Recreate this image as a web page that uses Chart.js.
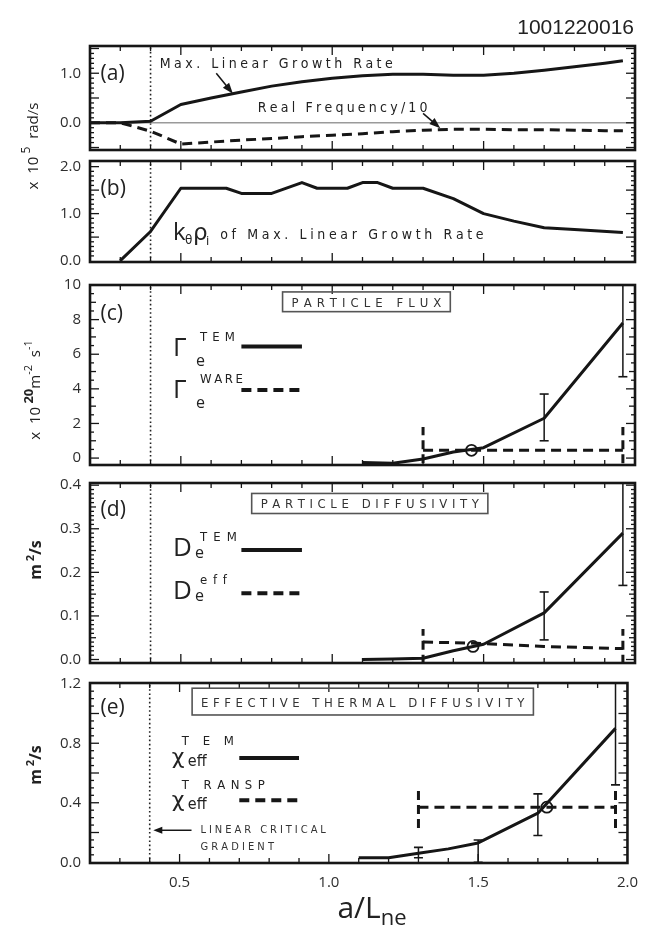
<!DOCTYPE html>
<html>
<head>
<meta charset="utf-8">
<title>TEM linear stability and transport versus a/Lne</title>
<script src="https://cdn.jsdelivr.net/npm/chart.js@4.4.1/dist/chart.umd.min.js"></script>
<style>
  html, body { margin: 0; padding: 0; background: #fff; }
  #fig { position: relative; width: 649px; height: 929px; overflow: hidden; background: #fff; }
  #fig canvas { position: absolute; left: 0; top: 0; }
</style>
</head>
<body>
<div id="fig">
  <canvas id="pa" width="649" height="929"></canvas>
  <canvas id="pb" width="649" height="929"></canvas>
  <canvas id="pc" width="649" height="929"></canvas>
  <canvas id="pd" width="649" height="929"></canvas>
  <canvas id="pe" width="649" height="929"></canvas>
</div>
<script>
// ---------------- data ----------------
const shotNumber = '1001220016';
const xRange = [0.2, 2.0];
const xTickLabels = [0.5, 1.0, 1.5, 2.0];
const critGradient = 0.4;

// (a) max linear growth rate and real frequency / 10  [1e5 rad/s]
const gradA      = [0.2, 0.3, 0.4, 0.5, 0.6, 0.7, 0.8, 0.9, 1.0, 1.1, 1.2, 1.3, 1.4, 1.5, 1.6, 1.7, 1.8, 1.9, 1.96];
const growthRate = [0, 0, 0.03, 0.37, 0.5, 0.62, 0.74, 0.83, 0.9, 0.95, 0.98, 0.98, 0.96, 0.96, 1.0, 1.06, 1.13, 1.2, 1.25];
const realFreq   = [0, 0, -0.17, -0.43, -0.39, -0.35, -0.32, -0.28, -0.25, -0.22, -0.18, -0.15, -0.13, -0.13, -0.14, -0.14, -0.15, -0.16, -0.16];
const yTicksA    = [0.0, 1.0];

// (b) k_theta rho_i of the max growth rate
const gradB   = [0.3, 0.4, 0.5, 0.65, 0.7, 0.8, 0.9, 0.95, 1.05, 1.1, 1.15, 1.2, 1.3, 1.4, 1.5, 1.6, 1.7, 1.8, 1.96];
const kRho    = [0, 0.62, 1.54, 1.54, 1.43, 1.43, 1.66, 1.54, 1.54, 1.66, 1.66, 1.54, 1.54, 1.32, 1.0, 0.84, 0.7, 0.66, 0.6];
const yTicksB = [0.0, 1.0, 2.0];

// gradients of the nonlinear TEM runs, panels (c)-(e)
const gradTEM = [1.1, 1.2, 1.3, 1.4, 1.5, 1.7, 1.96];

// (c) particle flux [1e20 m^-2 s^-1]
const fluxTEM      = [-0.25, -0.3, -0.05, 0.35, 0.6, 2.3, 7.8];
const fluxErrX     = [1.7, 1.96];
const fluxErrLo    = [1.0, 4.7];
const fluxErrHi    = [3.7, 12.0];
const wareX        = [1.3, 1.96];
const fluxWare     = [0.45, 0.45];
const fluxWareSpan = [-0.3, 1.8];
const fluxExp      = { x: 1.46, y: 0.45 };
const yTicksC      = [0, 2, 4, 6, 8, 10];

// (d) particle diffusivity [m^2/s]
const diffTEM     = [0.0, 0.001, 0.003, 0.02, 0.035, 0.107, 0.29];
const diffErrX    = [1.7, 1.96];
const diffErrLo   = [0.045, 0.17];
const diffErrHi   = [0.155, 0.45];
const effX        = [1.3, 1.45, 1.7, 1.96];
const diffEff     = [0.04, 0.038, 0.03, 0.025];
const diffEffSpan = [-0.01, 0.07];
const diffExp     = { x: 1.465, y: 0.03 };
const yTicksD     = [0.0, 0.1, 0.2, 0.3, 0.4];

// (e) effective thermal diffusivity [m^2/s]
const chiTEM        = [0.03, 0.03, 0.06, 0.09, 0.13, 0.33, 0.9];
const chiErrX       = [1.3, 1.5, 1.7, 1.96];
const chiErrLo      = [0.03, 0.0, 0.18, 0.52];
const chiErrHi      = [0.1, 0.15, 0.46, 1.4];
const transpX       = [1.3, 1.96];
const chiTransp     = [0.37, 0.37];
const chiTranspSpan = [0.23, 0.51];
const chiExp        = { x: 1.73, y: 0.37 };
const yTicksE       = [0.0, 0.4, 0.8, 1.2];

// ---------------- styling helpers ----------------
const FONT_NUM = '"Open Sans", "DejaVu Sans", sans-serif';
const FONT_TXT = '"Liberation Sans Narrow", "DejaVu Sans Condensed", "Open Sans", sans-serif';
const INK = '#161616';
const DASH = [10, 6];
const W = 649, H = 929;

function pts(xs, ys) { return xs.map((x, i) => ({ x, y: ys[i] })); }
function curve(data, extra) {
  return Object.assign({ data, showLine: true, pointRadius: 0, borderColor: INK, borderWidth: 3,
    tension: 0, borderJoinStyle: 'round', borderCapStyle: 'butt' }, extra || {});
}
function vline(x, span, extra) { return curve([{ x, y: span[0] }, { x, y: span[1] }], extra); }
function errorBars(xs, lo, hi) {
  return xs.map((x, i) => curve([{ x, y: lo[i] }, { x, y: hi[i] }],
    { borderWidth: 1.5, pointStyle: 'line', pointRadius: 4.5, pointBorderWidth: 1.6, pointBorderColor: INK }));
}
function marker(p) {
  return { data: [p], showLine: false, pointStyle: 'circle', pointRadius: 5.5, pointBorderWidth: 1.8,
    pointBorderColor: INK, pointBackgroundColor: 'rgba(0,0,0,0)' };
}
function critLine(yMin, yMax) {
  return vline(critGradient, [yMin, yMax], { borderWidth: 1.6, borderDash: [1.6, 2.6], borderColor: '#222' });
}

// text drawn character by character so that it spans [x0, x1]
function fitText(ctx, text, x0, x1, yBase, font, color) {
  ctx.font = font; ctx.fillStyle = color || '#222';
  ctx.textAlign = 'left'; ctx.textBaseline = 'alphabetic';
  const chars = [...text];
  const ws = chars.map(c => ctx.measureText(c).width);
  const tot = ws.reduce((s, v) => s + v, 0);
  const gap = chars.length > 1 ? (x1 - x0 - tot) / (chars.length - 1) : 0;
  let x = x0;
  chars.forEach((c, i) => { ctx.fillText(c, x, yBase); x += ws[i] + gap; });
}
function text(ctx, s, x, yBase, font, align, color) {
  ctx.font = font; ctx.fillStyle = color || '#222';
  ctx.textAlign = align || 'left'; ctx.textBaseline = 'alphabetic';
  ctx.fillText(s, x, yBase);
}
// run of text pieces (with super/subscripts), centred on cx, optionally rotated
function rich(ctx, cx, cy, segs, rot) {
  ctx.save(); ctx.translate(cx, cy); ctx.rotate(rot || 0);
  ctx.textAlign = 'left'; ctx.textBaseline = 'alphabetic';
  let w = 0;
  segs.forEach(s => { ctx.font = s.f; s.w = ctx.measureText(s.t).width; w += s.w; });
  let x = -w / 2;
  segs.forEach(s => { ctx.font = s.f; ctx.fillStyle = s.c || '#222'; ctx.fillText(s.t, x, s.dy || 0); x += s.w; });
  ctx.restore();
}
function arrow(ctx, x0, y0, x1, y1, head, half) {
  const h = head || 11, w = half || 4;
  const ang = Math.atan2(y1 - y0, x1 - x0);
  ctx.save(); ctx.strokeStyle = INK; ctx.fillStyle = INK; ctx.lineWidth = 1.5;
  ctx.beginPath(); ctx.moveTo(x0, y0);
  ctx.lineTo(x1 - (h - 2) * Math.cos(ang), y1 - (h - 2) * Math.sin(ang)); ctx.stroke();
  ctx.beginPath(); ctx.moveTo(x1, y1);
  ctx.lineTo(x1 - h * Math.cos(ang) + w * Math.sin(ang), y1 - h * Math.sin(ang) - w * Math.cos(ang));
  ctx.lineTo(x1 - h * Math.cos(ang) - w * Math.sin(ang), y1 - h * Math.sin(ang) + w * Math.cos(ang));
  ctx.closePath(); ctx.fill(); ctx.restore();
}
function titleBox(ctx, label, x0, x1, yTop, yBot, font) {
  ctx.save(); ctx.strokeStyle = '#555'; ctx.lineWidth = 1.6;
  ctx.strokeRect(x0, yTop, x1 - x0, yBot - yTop);
  ctx.restore();
  fitText(ctx, label, x0 + 9, x1 - 9, (yTop + yBot) / 2 + 5, font, '#333');
}
function legendLine(ctx, x0, x1, y, dashed) {
  ctx.save(); ctx.strokeStyle = INK; ctx.lineWidth = 4;
  if (dashed) ctx.setLineDash(DASH);
  ctx.beginPath(); ctx.moveTo(x0, y); ctx.lineTo(x1, y); ctx.stroke(); ctx.restore();
}
// symbol with superscript / subscript; offsets in px from the symbol's left/baseline
function symbol(ctx, gx, gy, e) {
  text(ctx, e.g, gx, gy, e.gFont);
  if (e.sub) text(ctx, e.sub, gx + e.subDx, gy + e.subDy, e.subFont || ('16px ' + FONT_NUM));
  if (e.sup) fitText(ctx, e.sup, gx + e.supX0, gx + e.supX1, gy + e.supDy, '13px ' + FONT_TXT);
}

function eachStep(min, max, step, fn) {
  const k0 = Math.ceil(min / step - 1e-6), k1 = Math.floor(max / step + 1e-6);
  for (let k = k0; k <= k1; k++) fn(+(k * step).toFixed(6));
}
function isMult(v, step) { return !!step && Math.abs(v / step - Math.round(v / step)) < 1e-6; }

// heavy frame with inward ticks on all four sides
function frame(ctx, a, X, Y, p) {
  ctx.save(); ctx.strokeStyle = INK; ctx.lineWidth = 1.3;
  const seg = (x0, y0, x1, y1) => { ctx.beginPath(); ctx.moveTo(x0, y0); ctx.lineTo(x1, y1); ctx.stroke(); };
  eachStep(xRange[0], xRange[1], 0.1, v => {
    const px = X(v);
    if (px < a.left + 2 || px > a.right - 2) return;
    const len = isMult(v, 0.5) ? 9 : 5;
    seg(px, a.bottom, px, a.bottom - len); seg(px, a.top, px, a.top + len);
  });
  eachStep(p.yMin, p.yMax, p.minor, v => {
    const py = Y(v);
    if (py < a.top + 2 || py > a.bottom - 2) return;
    const len = isMult(v, p.major) ? 9 : (isMult(v, p.mid) ? 6 : 4);
    seg(a.left, py, a.left + len, py); seg(a.right, py, a.right - len, py);
  });
  ctx.lineWidth = 2.6;
  ctx.strokeRect(a.left, a.top, a.right - a.left, a.bottom - a.top);
  ctx.restore();
}

// ---------------- panels ----------------
const panels = [
  {
    id: 'a', top: 46, bottom: 150, yMin: -0.55, yMax: 1.55, yTicks: yTicksA, dec: 1, major: 0.5, minor: 0.1,
    datasets: [
      curve(pts(gradA, growthRate)),
      curve(pts(gradA, realFreq), { borderDash: DASH }),
      curve([{ x: xRange[0], y: 0 }, { x: xRange[1], y: 0 }], { borderColor: '#9a9a9a', borderWidth: 1.5 }),
      critLine(-0.55, 1.55)
    ],
    notes(ctx, X, Y) {
      text(ctx, '(a)', X(0.235), Y(1.0) + 7, '21px ' + FONT_NUM);
      fitText(ctx, 'Max. Linear Growth Rate', X(0.43), X(1.2), Y(1.2) + 5, '14px ' + FONT_TXT);
      arrow(ctx, X(0.617), Y(1.0), X(0.672), Y(0.585));
      fitText(ctx, 'Real Frequency/10', X(0.754), X(1.315), Y(0.31) + 5, '14px ' + FONT_TXT);
      arrow(ctx, X(1.30), Y(0.19), X(1.357), Y(-0.11));
      // y title shared by (a) and (b)
      rich(ctx, 38, 146, [
        { t: 'x  10', f: '15px ' + FONT_NUM },
        { t: ' 5', f: '12px ' + FONT_NUM, dy: -8 },
        { t: '  rad/s', f: '15px ' + FONT_NUM }
      ], -Math.PI / 2);
      text(ctx, shotNumber, 634, 34, '21px "Liberation Sans", Arial, sans-serif', 'right', '#222');
    }
  },
  {
    id: 'b', top: 161, bottom: 262, yMin: -0.03, yMax: 2.12, yTicks: yTicksB, dec: 1, major: 0.5, minor: 0.1,
    datasets: [curve(pts(gradB, kRho)), critLine(-0.03, 2.12)],
    notes(ctx, X, Y) {
      text(ctx, '(b)', X(0.235), Y(1.55) + 7, '21px ' + FONT_NUM);
      const kx = X(0.474), ky = Y(0.43);
      text(ctx, 'k', kx, ky, '24px ' + FONT_NUM);
      text(ctx, 'θ', kx + 12, ky + 4, '12px "DejaVu Sans", sans-serif');
      text(ctx, 'ρ', kx + 20, ky, '23px "DejaVu Sans", sans-serif');
      text(ctx, 'i', kx + 33, ky + 5, '13px ' + FONT_NUM);
      fitText(ctx, 'of Max. Linear Growth Rate', X(0.63), X(1.5), Y(0.57) + 5, '14px ' + FONT_TXT);
    }
  },
  {
    id: 'c', top: 285, bottom: 465, yMin: -0.4, yMax: 10, yTicks: yTicksC, dec: 0, major: 2, mid: 1, minor: 0.5,
    datasets: [
      marker(fluxExp),
      curve(pts(gradTEM, fluxTEM)),
      ...errorBars(fluxErrX, fluxErrLo, fluxErrHi),
      curve(pts(wareX, fluxWare), { borderDash: DASH }),
      vline(wareX[0], fluxWareSpan, { borderDash: [9, 5] }),
      vline(wareX[wareX.length - 1], fluxWareSpan, { borderDash: [9, 5] }),
      critLine(-0.4, 10)
    ],
    notes(ctx, X, Y) {
      text(ctx, '(c)', X(0.235), Y(8.4) + 7, '21px ' + FONT_NUM);
      titleBox(ctx, 'PARTICLE FLUX', X(0.836), X(1.39), Y(9.6), Y(8.46), '13px ' + FONT_TXT);
      const gx = X(0.474);
      symbol(ctx, gx, Y(5.87), { g: 'Γ', gFont: '26px ' + FONT_NUM, sub: 'e', subDx: 23, subDy: 10, sup: 'TEM', supX0: 27, supX1: 62, supDy: -15 });
      symbol(ctx, gx, Y(3.46), { g: 'Γ', gFont: '26px ' + FONT_NUM, sub: 'e', subDx: 23, subDy: 10, sup: 'WARE', supX0: 27, supX1: 70, supDy: -15 });
      legendLine(ctx, X(0.70), X(0.90), Y(6.44), false);
      legendLine(ctx, X(0.70), X(0.90), Y(3.94), true);
      rich(ctx, 40, 390, [
        { t: 'x  10', f: '15px ' + FONT_NUM },
        { t: ' 20', f: 'bold 13px ' + FONT_NUM, dy: -7 },
        { t: 'm', f: '15px ' + FONT_NUM },
        { t: '-2', f: '11px ' + FONT_NUM, dy: -8 },
        { t: '  s', f: '15px ' + FONT_NUM },
        { t: '-1', f: '11px ' + FONT_NUM, dy: -8 }
      ], -Math.PI / 2);
    }
  },
  {
    id: 'd', top: 483, bottom: 663, yMin: -0.008, yMax: 0.405, yTicks: yTicksD, dec: 1, major: 0.1, mid: 0.05, minor: 0.01,
    datasets: [
      marker(diffExp),
      curve(pts(gradTEM, diffTEM)),
      ...errorBars(diffErrX, diffErrLo, diffErrHi),
      curve(pts(effX, diffEff), { borderDash: DASH }),
      vline(effX[0], diffEffSpan, { borderDash: [9, 5] }),
      vline(effX[effX.length - 1], diffEffSpan, { borderDash: [9, 5] }),
      critLine(-0.008, 0.405)
    ],
    notes(ctx, X, Y) {
      text(ctx, '(d)', X(0.235), Y(0.346) + 7, '21px ' + FONT_NUM);
      titleBox(ctx, 'PARTICLE DIFFUSIVITY', X(0.734), X(1.514), Y(0.381), Y(0.335), '13px ' + FONT_TXT);
      const gx = X(0.474);
      symbol(ctx, gx, Y(0.238), { g: 'D', gFont: '26px ' + FONT_NUM, sub: 'e', subDx: 22, subDy: 2, sup: 'TEM', supX0: 27, supX1: 64, supDy: -15 });
      symbol(ctx, gx, Y(0.138), { g: 'D', gFont: '26px ' + FONT_NUM, sub: 'e', subDx: 22, subDy: 2, sup: 'eff', supX0: 27, supX1: 54, supDy: -15 });
      legendLine(ctx, X(0.70), X(0.90), Y(0.2515), false);
      legendLine(ctx, X(0.70), X(0.90), Y(0.152), true);
      rich(ctx, 41, 560, [
        { t: 'm', f: 'bold 16px ' + FONT_NUM },
        { t: ' 2', f: 'bold 11px ' + FONT_NUM, dy: -7 },
        { t: '/s', f: 'bold 16px ' + FONT_NUM }
      ], -Math.PI / 2);
    }
  },
  {
    id: 'e', top: 683, bottom: 863, yMin: -0.005, yMax: 1.205, yTicks: yTicksE, dec: 1, major: 0.2, minor: 0.05, showX: true,
    datasets: [
      marker(chiExp),
      curve(pts(gradTEM, chiTEM)),
      ...errorBars(chiErrX, chiErrLo, chiErrHi),
      curve(pts(transpX, chiTransp), { borderDash: DASH }),
      vline(transpX[0], chiTranspSpan, { borderDash: [9, 5] }),
      vline(transpX[transpX.length - 1], chiTranspSpan, { borderDash: [9, 5] }),
      critLine(-0.005, 1.205)
    ],
    notes(ctx, X, Y) {
      text(ctx, '(e)', X(0.235), Y(1.045) + 7, '21px ' + FONT_NUM);
      titleBox(ctx, 'EFFECTIVE THERMAL DIFFUSIVITY', X(0.542), X(1.685), Y(1.17), Y(0.99), '13px ' + FONT_TXT);
      const gx = X(0.474);
      symbol(ctx, gx, Y(0.663), { g: 'χ', gFont: '22px "DejaVu Sans", sans-serif', sub: 'eff', subDx: 16, subDy: 2, subFont: '16px ' + FONT_TXT, sup: 'TEM', supX0: 10, supX1: 62, supDy: -19 });
      symbol(ctx, gx, Y(0.37), { g: 'χ', gFont: '22px "DejaVu Sans", sans-serif', sub: 'eff', subDx: 16, subDy: 2, subFont: '16px ' + FONT_TXT, sup: 'T RANSP', supX0: 10, supX1: 93, supDy: -18 });
      legendLine(ctx, X(0.70), X(0.90), Y(0.70), false);
      legendLine(ctx, X(0.70), X(0.90), Y(0.416), true);
      fitText(ctx, 'LINEAR CRITICAL', X(0.57), X(0.99), Y(0.225) + 4, '11px ' + FONT_TXT, '#333');
      fitText(ctx, 'GRADIENT', X(0.57), X(0.816), Y(0.112) + 4, '11px ' + FONT_TXT, '#333');
      arrow(ctx, X(0.54), Y(0.215), X(0.412), Y(0.215), 9, 3.5);
      rich(ctx, 41, 765, [
        { t: 'm', f: 'bold 16px ' + FONT_NUM },
        { t: ' 2', f: 'bold 11px ' + FONT_NUM, dy: -7 },
        { t: '/s', f: 'bold 16px ' + FONT_NUM }
      ], -Math.PI / 2);
      rich(ctx, 372, 918, [
        { t: 'a/L', f: '30px ' + FONT_NUM },
        { t: 'ne', f: '22px ' + FONT_NUM, dy: 7 }
      ], 0);
    }
  }
];

function decor(p) {
  return {
    id: 'decor_' + p.id,
    afterDatasetsDraw(chart) {
      const ctx = chart.ctx, a = chart.chartArea;
      const X = v => chart.scales.x.getPixelForValue(v);
      const Y = v => chart.scales.y.getPixelForValue(v);
      ctx.save();
      frame(ctx, a, X, Y, p);
      p.notes(ctx, X, Y);
      ctx.restore();
    }
  };
}

const X_AXIS_H = 66;
panels.forEach(p => {
  new Chart(document.getElementById('p' + p.id), {
    type: 'scatter',
    data: { datasets: p.datasets },
    options: {
      responsive: false, animation: false, events: [], devicePixelRatio: 1,
      layout: { padding: { left: 0, right: W - 635, top: p.top, bottom: H - p.bottom - (p.showX ? X_AXIS_H : 0) } },
      plugins: { legend: { display: false }, tooltip: { enabled: false } },
      scales: {
        x: {
          type: 'linear', min: xRange[0], max: xRange[1], display: !!p.showX,
          grid: { display: false, drawTicks: false }, border: { display: false },
          afterBuildTicks: s => { s.ticks = xTickLabels.map(v => ({ value: v })); },
          afterFit: s => { s.height = p.showX ? X_AXIS_H : 0; },
          ticks: { padding: 11, color: '#2e2e2e', font: { family: FONT_NUM, size: 15 }, maxRotation: 0, autoSkip: false,
                   callback: v => Number(v).toFixed(1) }
        },
        y: {
          type: 'linear', min: p.yMin, max: p.yMax,
          grid: { display: false, drawTicks: false }, border: { display: false },
          afterBuildTicks: s => { s.ticks = p.yTicks.map(v => ({ value: v })); },
          afterFit: s => { s.width = 90; },
          ticks: { padding: 9, color: '#2e2e2e', font: { family: FONT_NUM, size: 15 }, autoSkip: false,
                   callback: v => Number(v).toFixed(p.dec) }
        }
      }
    },
    plugins: [decor(p)]
  });
});
</script>
</body>
</html>
